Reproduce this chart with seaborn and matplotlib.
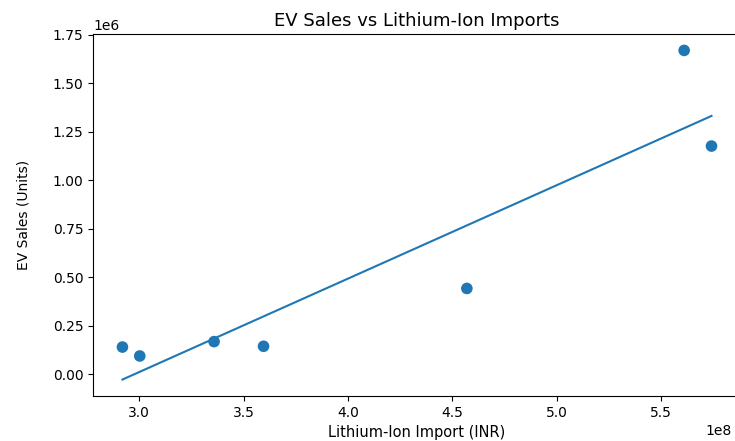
import numpy as np
import pandas as pd
import seaborn as sns
import matplotlib.pyplot as plt

# Lithium-ion import value (INR) and EV sales (units)
imports_inr = [2.920e8, 3.003e8, 3.359e8, 3.596e8, 4.570e8, 5.611e8, 5.742e8]
ev_sales = [1.40e5, 0.94e5, 1.68e5, 1.44e5, 4.42e5, 1.669e6, 1.176e6]

df = pd.DataFrame({"imports": imports_inr, "sales": ev_sales})

# simple linear fit
slope, intercept = np.polyfit(df["imports"], df["sales"], 1)
df["fit"] = slope * df["imports"] + intercept

fig = plt.figure(figsize=(7.35, 4.41), dpi=100)
ax = fig.add_axes([0.1265, 0.102, 0.8816, 0.821])

sns.scatterplot(data=df, x="imports", y="sales", ax=ax, color="#1f77b4",
                s=70, edgecolor="none")
sns.lineplot(data=df, x="imports", y="fit", ax=ax, color="#1f77b4",
             linewidth=1.5)

ax.set_title("EV Sales vs Lithium-Ion Imports", fontsize=13)
ax.set_xlabel("Lithium-Ion Import (INR)", fontsize=10.5)
ax.set_ylabel("EV Sales (Units)", fontsize=10, labelpad=16)
ax.tick_params(labelsize=10)
ax.xaxis.get_offset_text().set_x(0.985)

fig.savefig("out.png", dpi=100)
